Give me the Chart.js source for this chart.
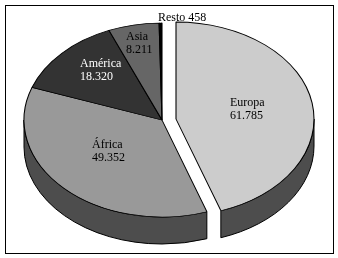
<!DOCTYPE html>
<html>
<head>
<meta charset="utf-8">
<style>
html, body { margin: 0; padding: 0; background: #fff; }
canvas { display: block; }
</style>
<script src="https://cdn.jsdelivr.net/npm/chart.js@4"></script>
</head>
<body>
<canvas id="pie" width="338" height="258"></canvas>
<script>
const categories = ['Europa', 'África', 'América', 'Asia', 'Resto'];
const values = [61785, 49352, 18320, 8211, 458];
const colors = ['#cccccc', '#999999', '#333333', '#666666', '#000000'];
const textColors = ['#000', '#000', '#fff', '#000', '#000'];

// where the flat circle ends up on the page
const centerX = 162, centerY = 120, radiusX = 138, radiusY = 97, depth = 27;
const sideColor = '#4d4d4d';
// Europa is pulled out of the pie by this much, in page pixels
const pulledOut = 0, pullX = 14, pullY = -1;

// text anchors, top-left of the first line
const labelAt = [[230, 97], [92, 139], [80, 58], [126, 31], [158, 12]];

function fmt(v) {
    return String(v).replace(/\B(?=(\d{3})+$)/g, '.');
}

function squash(ctx, arc, i, down) {
    const pulled = i === pulledOut;
    ctx.setTransform(1, 0, 0, 1, 0, 0);
    ctx.translate(centerX + (pulled ? pullX : 0), centerY + (pulled ? pullY : 0) + down);
    ctx.scale(radiusX / arc.outerRadius, radiusY / arc.outerRadius);
    ctx.translate(-arc.x, -arc.y);
}

const tilt = {
    id: 'tilt',
    beforeDatasetsDraw(chart) {
        const ctx = chart.ctx;
        const arcs = chart.getDatasetMeta(0).data;
        ctx.save();
        ctx.strokeStyle = '#000';
        ctx.lineWidth = 1;
        ctx.strokeRect(5.5, 5.5, 328, 248);
        ctx.restore();

        // rim of the slices on the front half only
        arcs.forEach((arc, i) => {
            const start = Math.max(arc.startAngle, 0);
            const end = Math.min(arc.endAngle, Math.PI);
            if (end <= start) return;
            ctx.save();
            squash(ctx, arc, i, 0);
            ctx.beginPath();
            ctx.arc(arc.x, arc.y, arc.outerRadius, start, end);
            squash(ctx, arc, i, depth);
            ctx.arc(arc.x, arc.y, arc.outerRadius, end, start, true);
            ctx.closePath();
            ctx.setTransform(1, 0, 0, 1, 0, 0);
            ctx.fillStyle = sideColor;
            ctx.fill();
            ctx.strokeStyle = '#000';
            ctx.lineWidth = 1;
            ctx.stroke();
            ctx.restore();
        });

        // top faces, drawn by the arc elements themselves
        arcs.forEach((arc, i) => {
            ctx.save();
            squash(ctx, arc, i, 0);
            arc.draw(ctx);
            ctx.restore();
        });

        ctx.save();
        ctx.font = '12px "Liberation Serif"';
        ctx.textBaseline = 'top';
        categories.forEach((name, i) => {
            const [x, y] = labelAt[i];
            ctx.fillStyle = textColors[i];
            if (name === 'Resto') {
                ctx.fillText(name + ' ' + fmt(values[i]), x, y);
            } else {
                ctx.fillText(name, x, y);
                ctx.fillText(fmt(values[i]), x, y + 13);
            }
        });
        ctx.restore();
        return false;
    }
};

new Chart(document.getElementById('pie').getContext('2d'), {
    type: 'pie',
    data: {
        labels: categories,
        datasets: [{
            data: values,
            backgroundColor: colors,
            borderColor: '#000',
            borderWidth: 1,
            hoverOffset: 0
        }]
    },
    options: {
        responsive: false,
        animation: false,
        events: [],
        layout: { padding: 0 },
        plugins: {
            legend: { display: false },
            tooltip: { enabled: false }
        }
    },
    plugins: [tilt]
});
</script>
</body>
</html>
